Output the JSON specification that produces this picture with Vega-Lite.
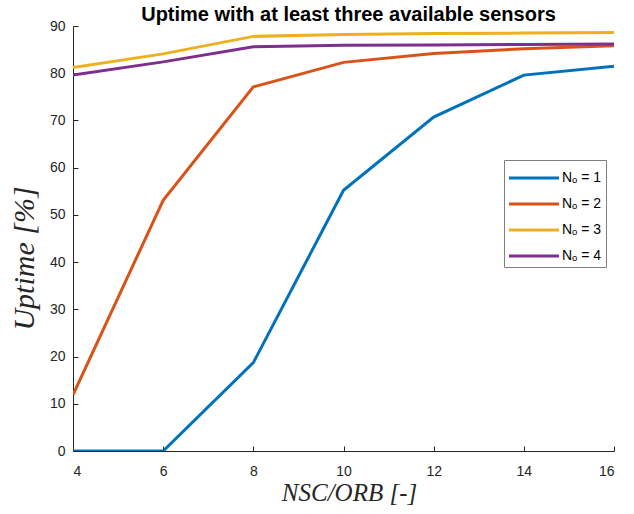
{
  "$schema": "https://vega.github.io/schema/vega-lite/v6.json",
  "width": 541,
  "height": 425,
  "autosize": {"type": "none"},
  "padding": {"left": 73, "top": 26, "right": 20, "bottom": 63},
  "background": "white",
  "title": {
    "text": "Uptime with at least three available sensors",
    "font": "Liberation Sans",
    "fontSize": 20,
    "fontWeight": "bold",
    "color": "#000000",
    "anchor": "middle",
    "dx": 5,
    "dy": 6,
    "offset": 0
  },
  "data": {
    "values": [
      {"n": 4, "u": 0, "s": "Nₒ = 1"},
      {"n": 6, "u": 0, "s": "Nₒ = 1"},
      {"n": 8, "u": 18.7, "s": "Nₒ = 1"},
      {"n": 10, "u": 55.2, "s": "Nₒ = 1"},
      {"n": 12, "u": 70.7, "s": "Nₒ = 1"},
      {"n": 14, "u": 79.6, "s": "Nₒ = 1"},
      {"n": 16, "u": 81.5, "s": "Nₒ = 1"},
      {"n": 4, "u": 11.9, "s": "Nₒ = 2"},
      {"n": 6, "u": 53.1, "s": "Nₒ = 2"},
      {"n": 8, "u": 77.1, "s": "Nₒ = 2"},
      {"n": 10, "u": 82.3, "s": "Nₒ = 2"},
      {"n": 12, "u": 84.2, "s": "Nₒ = 2"},
      {"n": 14, "u": 85.2, "s": "Nₒ = 2"},
      {"n": 16, "u": 85.8, "s": "Nₒ = 2"},
      {"n": 4, "u": 81.2, "s": "Nₒ = 3"},
      {"n": 6, "u": 84.1, "s": "Nₒ = 3"},
      {"n": 8, "u": 87.8, "s": "Nₒ = 3"},
      {"n": 10, "u": 88.2, "s": "Nₒ = 3"},
      {"n": 12, "u": 88.4, "s": "Nₒ = 3"},
      {"n": 14, "u": 88.5, "s": "Nₒ = 3"},
      {"n": 16, "u": 88.6, "s": "Nₒ = 3"},
      {"n": 4, "u": 79.6, "s": "Nₒ = 4"},
      {"n": 6, "u": 82.4, "s": "Nₒ = 4"},
      {"n": 8, "u": 85.6, "s": "Nₒ = 4"},
      {"n": 10, "u": 85.9, "s": "Nₒ = 4"},
      {"n": 12, "u": 86.0, "s": "Nₒ = 4"},
      {"n": 14, "u": 86.1, "s": "Nₒ = 4"},
      {"n": 16, "u": 86.2, "s": "Nₒ = 4"}
    ]
  },
  "layer": [
    {
      "mark": {"type": "line", "strokeOpacity": 0},
      "encoding": {
        "x": {
          "field": "n",
          "type": "quantitative",
          "scale": {"domain": [4, 16], "nice": false, "zero": false},
          "axis": {
            "orient": "bottom",
            "offset": -5,
            "values": [4, 6, 8, 10, 12, 14, 16],
            "title": null,
            "labels": false,
            "domain": false,
            "grid": false,
            "ticks": true,
            "tickSize": 5,
            "tickWidth": 1,
            "tickColor": "#262626"
          }
        },
        "y": {
          "field": "u",
          "type": "quantitative",
          "scale": {"domain": [0, 90], "nice": false},
          "axis": {
            "orient": "left",
            "offset": -5,
            "values": [0, 10, 20, 30, 40, 50, 60, 70, 80, 90],
            "title": null,
            "labels": false,
            "domain": false,
            "grid": false,
            "ticks": true,
            "tickSize": 5,
            "tickWidth": 1,
            "tickColor": "#262626"
          }
        },
        "detail": {"field": "s"}
      }
    },
    {
      "mark": {"type": "line", "strokeWidth": 3, "clip": true},
      "encoding": {
        "x": {
          "field": "n",
          "type": "quantitative",
          "scale": {"domain": [4, 16], "nice": false, "zero": false},
          "axis": {
            "orient": "bottom",
            "values": [4, 6, 8, 10, 12, 14, 16],
            "title": "NSC/ORB [-]",
            "titleFont": "Liberation Serif",
            "titleFontStyle": "italic",
            "titleFontWeight": "normal",
            "titleFontSize": 25,
            "titleColor": "#262626",
            "titleBaseline": "alphabetic",
            "titleAlign": "center",
            "titleX": 276,
            "titleY": 49,
            "grid": false,
            "domainColor": "#262626",
            "ticks": false,
            "labelPadding": 13,
            "labelFont": "Liberation Sans",
            "labelFontSize": 14,
            "labelColor": "#262626"
          }
        },
        "y": {
          "field": "u",
          "type": "quantitative",
          "scale": {"domain": [0, 90], "nice": false},
          "axis": {
            "orient": "left",
            "values": [0, 10, 20, 30, 40, 50, 60, 70, 80, 90],
            "title": "Uptime  [%]",
            "titleFont": "Liberation Serif",
            "titleFontStyle": "italic",
            "titleFontWeight": "normal",
            "titleFontSize": 30,
            "titleColor": "#262626",
            "titleBaseline": "alphabetic",
            "titleAlign": "center",
            "titleAngle": -90,
            "titleX": -40,
            "titleY": 232,
            "grid": false,
            "domainColor": "#262626",
            "ticks": false,
            "labelPadding": 8,
            "labelFont": "Liberation Sans",
            "labelFontSize": 14,
            "labelColor": "#262626"
          }
        },
        "color": {
          "field": "s",
          "type": "nominal",
          "scale": {
            "domain": ["Nₒ = 1", "Nₒ = 2", "Nₒ = 3", "Nₒ = 4"],
            "range": ["#0072BD", "#D95319", "#EDB120", "#7E2F8E"]
          },
          "legend": {
            "title": null,
            "orient": "none",
            "legendX": 431,
            "legendY": 134,
            "padding": 4,
            "strokeColor": "#808080",
            "fillColor": "white",
            "symbolType": "M-2,0H2",
            "symbolSize": 625,
            "symbolStrokeWidth": 3,
            "symbolOffset": 12,
            "labelFont": "Liberation Sans",
            "labelFontSize": 14,
            "labelColor": "#000000",
            "rowPadding": 5,
            "labelOffset": 14
          }
        }
      }
    }
  ],
  "resolve": {"axis": {"x": "independent", "y": "independent"}},
  "config": {"view": {"stroke": null}}
}
